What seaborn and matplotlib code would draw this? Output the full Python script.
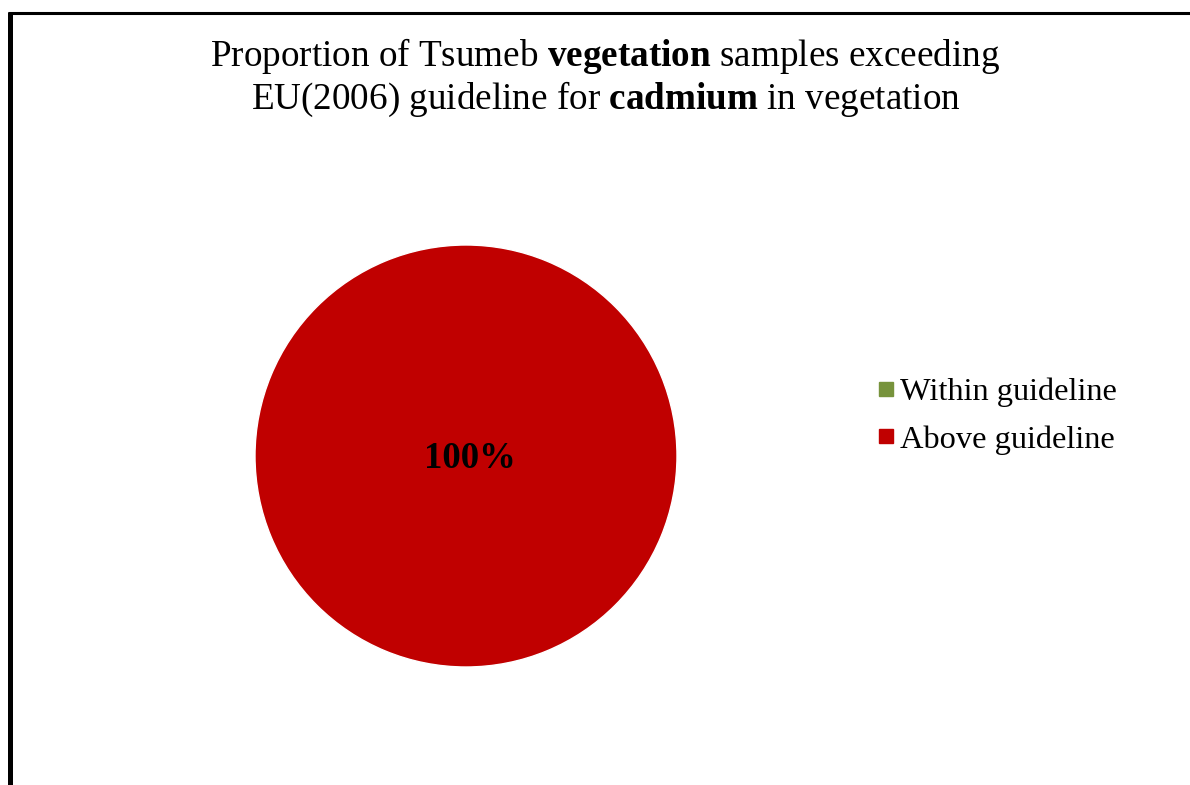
import matplotlib
matplotlib.use("Agg")
import matplotlib.pyplot as plt
from matplotlib.lines import Line2D
import seaborn as sns

categories = ["Within guideline", "Above guideline"]
values = [0, 100]
colors = ["#77933C", "#C00000"]

sns.set_theme(style="white")
plt.rcParams['font.family'] = ['Liberation Serif', 'DejaVu Serif']
plt.rcParams['text.color'] = 'black'
plt.rcParams['mathtext.fontset'] = 'custom'
plt.rcParams['mathtext.rm'] = 'Liberation Serif'
plt.rcParams['mathtext.bf'] = 'Liberation Serif:bold'
plt.rcParams['mathtext.it'] = 'Liberation Serif:italic'

W, H = 1190, 785
fig = plt.figure(figsize=(W / 100, H / 100), dpi=100)
fig.patch.set_facecolor("white")

cx, cy, r = 466, 456, 211
ax = fig.add_axes([(cx - r) / W, (H - cy - r) / H, 2 * r / W, 2 * r / H])

def fmt(p):
    return f"{p:.0f}%" if p > 0 else ""

wedges, texts, autotexts = ax.pie(values, colors=colors, startangle=90, counterclock=False,
                                  autopct=fmt, pctdistance=0.0,
                                  textprops=dict(fontsize=26.5, fontweight="bold", color="black"))
for t in autotexts:
    t.set_position((0.02, -0.01))
ax.set_xlim(-1, 1)
ax.set_ylim(-1, 1)
ax.set_aspect("equal")
ax.axis("off")

fig.text(605 / W, 1 - 56 / H, r"Proportion of Tsumeb $\mathbf{vegetation}$ samples exceeding",
         ha="center", va="center", fontsize=26.7, color="black")
fig.text(606 / W, 1 - 99 / H, r"EU(2006) guideline for $\mathbf{cadmium}$ in vegetation",
         ha="center", va="center", fontsize=26.7, color="black")

handles = [Line2D([], [], marker="s", linestyle="none", markersize=10.5,
                  markerfacecolor=c, markeredgecolor=c) for c in colors]
leg = fig.legend(handles, categories, loc="center left", bbox_to_anchor=(876 / W, 1 - 416 / H),
                 frameon=False, fontsize=23.3, handlelength=0.6, handletextpad=0.15,
                 labelspacing=0.55, borderpad=0, borderaxespad=0)
for t in leg.get_texts():
    t.set_color("black")

fig.add_artist(Line2D([10 / W, 10 / W], [0, 1 - 12 / H], color="black", linewidth=3.6,
                      transform=fig.transFigure, solid_capstyle="butt"))
fig.add_artist(Line2D([8 / W, 1], [1 - 12.5 / H, 1 - 12.5 / H], color="black", linewidth=2.2,
                      transform=fig.transFigure, solid_capstyle="butt"))

fig.savefig("out.png", dpi=100)
